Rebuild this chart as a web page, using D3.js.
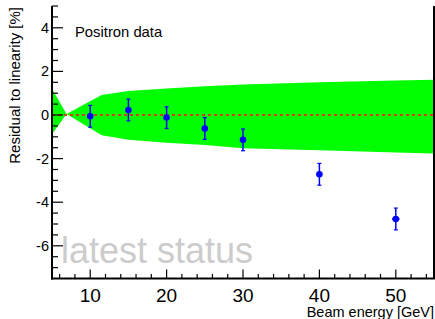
<!DOCTYPE html>
<html><head><meta charset="utf-8">
<script src="https://cdn.jsdelivr.net/npm/d3@7"></script>
<style>body{margin:0;background:#fff}svg{display:block;font-family:"Liberation Sans",Arial,sans-serif}</style>
</head><body><svg id="c" width="435" height="319"></svg>
<script>
const energies = [10, 15, 20, 25, 30, 40, 50];
const residuals = [-0.06, 0.23, -0.12, -0.62, -1.14, -2.72, -4.77];
const yErrors = [0.5, 0.5, 0.5, 0.5, 0.5, 0.5, 0.5];
const xErrors = [0, 0, 0, 0, 0, 0, 0.5];
const bandE = [5, 6.9, 11.5, 15, 20, 25, 30, 40, 50, 55];
const bandUpper = [1.2, 0.05, 0.92, 1.1, 1.22, 1.32, 1.4, 1.5, 1.58, 1.62];
const bandLower = [-0.88, 0.05, -0.93, -1.13, -1.27, -1.38, -1.52, -1.62, -1.72, -1.77];
const xTicks = [10, 20, 30, 40, 50];
const yTicks = [-6, -4, -2, 0, 2, 4];

const svg = d3.select("#c");
const L = 52, R = 434, T = 6, B = 278.5;
const x = d3.scaleLinear().domain([5, 55]).range([L, R]);
const y = d3.scaleLinear().domain([-7.5, 5]).range([B, T]);

// band
const pts = bandE.map((e,i)=>[x(e), y(bandUpper[i])])
  .concat(bandE.map((e,i)=>[x(e), y(bandLower[i])]).reverse());
svg.append("path").attr("d", d3.line()(pts) + "Z").attr("fill", "#00ff00");

// zero line
svg.append("line").attr("x1", x(5)).attr("x2", x(55)).attr("y1", y(0)).attr("y2", y(0))
  .attr("stroke", "#d2401a").attr("stroke-width", 2).attr("stroke-dasharray", "3,3");

// watermark
svg.append("text").attr("x", 61).attr("y", 263).attr("font-size", 36)
  .attr("fill", "#cccccc").text("latest status");

// data
const g = svg.append("g");
energies.forEach((e,i)=>{
  const cx = x(e), cy = y(residuals[i]);
  g.append("line").attr("x1", cx).attr("x2", cx).attr("y1", y(residuals[i]+yErrors[i])).attr("y2", y(residuals[i]-yErrors[i]))
    .attr("stroke", "#0000ff").attr("stroke-width", 1.5);
  [residuals[i]+yErrors[i], residuals[i]-yErrors[i]].forEach(v=>{
    g.append("line").attr("x1", cx-2).attr("x2", cx+2).attr("y1", y(v)).attr("y2", y(v))
      .attr("stroke", "#0000ff").attr("stroke-width", 1.2);
  });
  if (xErrors[i] > 0) {
    g.append("line").attr("x1", x(e-xErrors[i])).attr("x2", x(e+xErrors[i])).attr("y1", cy).attr("y2", cy)
      .attr("stroke", "#0000ff").attr("stroke-width", 1.5);
  }
  g.append("circle").attr("cx", cx).attr("cy", cy).attr("r", 3.3).attr("fill", "#0000ff");
});

// axes
const ax = svg.append("g").attr("stroke", "#000");
for (let v = 6; v <= 54; v += 2) {
  const major = v % 10 === 0;
  ax.append("line").attr("x1", x(v)).attr("x2", x(v)).attr("y1", B).attr("y2", B - (major ? 9 : 4.5)).attr("stroke-width", 1.2);
}
for (let v = -7; v <= 5; v += 0.5) {
  const major = Math.abs(v % 2) < 1e-9;
  ax.append("line").attr("x1", L).attr("x2", L + (major ? 11 : 6)).attr("y1", y(v)).attr("y2", y(v)).attr("stroke-width", 1.2);
}
ax.append("line").attr("x1", L).attr("x2", L).attr("y1", T).attr("y2", B+1).attr("stroke-width", 2);
ax.append("line").attr("x1", L-1).attr("x2", R+1).attr("y1", B).attr("y2", B).attr("stroke-width", 2);
ax.append("line").attr("x1", R).attr("x2", R).attr("y1", T).attr("y2", B).attr("stroke-width", 2);

xTicks.forEach(v=>svg.append("text").attr("x", x(v)).attr("y", 302).attr("text-anchor", "middle")
  .attr("font-size", 19).text(v));
yTicks.forEach(v=>svg.append("text").attr("x", 49).attr("y", y(v) + 5).attr("text-anchor", "end")
  .attr("font-size", 14.5).text(v));

svg.append("text").attr("x", 434).attr("y", 317).attr("text-anchor", "end").attr("font-size", 14.5).text("Beam energy [GeV]");
svg.append("text").attr("transform", "translate(20,7) rotate(-90)").attr("text-anchor", "end").attr("font-size", 15)
  .text("Residual to linearity [%]");
svg.append("text").attr("x", 75).attr("y", 37).attr("font-size", 14.8).text("Positron data");
</script></body></html>
